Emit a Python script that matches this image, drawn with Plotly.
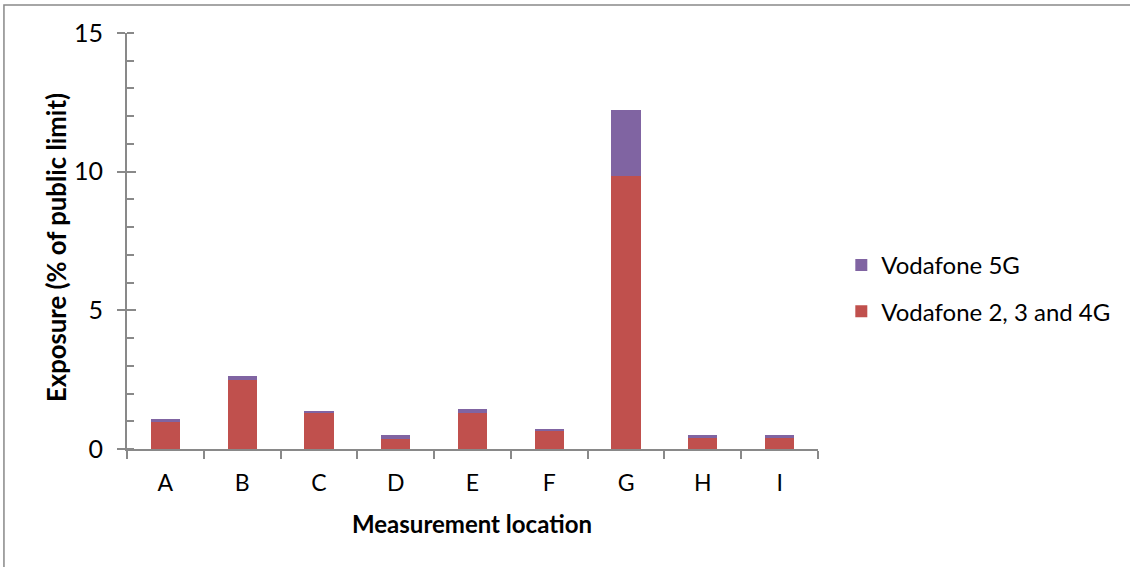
import plotly.graph_objects as go

locations = ["A", "B", "C", "D", "E", "F", "G", "H", "I"]
vodafone_234g = [1.00, 2.50, 1.30, 0.36, 1.29, 0.65, 9.86, 0.43, 0.43]
vodafone_5g = [0.07, 0.15, 0.06, 0.14, 0.14, 0.08, 2.35, 0.07, 0.07]
y_ticks = [0, 5, 10, 15]

RED = "#C0504D"
PURPLE = "#8064A2"
AXIS = "#898989"
FONT = "Lato"

W, H = 1130, 567
# plot area in pixels
PX0, PX1, PY0, PY1 = 127, 817.7, 33, 449
L, T = PX0, PY0
R = W - PX1
B = H - PY1
pw = PX1 - PX0
ph = PY1 - PY0

def px_x(p):
    return (p - PX0) / pw

def px_y(p):
    return (PY1 - p) / ph

fig = go.Figure()
fig.add_trace(go.Bar(x=locations, y=vodafone_234g, name="Vodafone 2, 3 and 4G",
                     marker=dict(color=RED, line=dict(width=0)), legendgroup="a",
                     legendrank=2))
fig.add_trace(go.Bar(x=locations, y=vodafone_5g, name="Vodafone 5G",
                     marker=dict(color=PURPLE, line=dict(width=0)), legendgroup="b",
                     legendrank=1))
# invisible trace on overlay axis to carry the inside part of major ticks
fig.add_trace(go.Scatter(x=[locations[0]], y=[0], yaxis="y2", mode="markers",
                         marker=dict(opacity=0), showlegend=False, hoverinfo="skip"))

fig.update_layout(
    width=W, height=H,
    margin=dict(l=L, r=R, t=T, b=B, autoexpand=False),
    barmode="stack", bargap=0.62,
    paper_bgcolor="white", plot_bgcolor="white",
    font=dict(family=FONT, size=24, color="black"),
    showlegend=True,
    legend=dict(x=px_x(841), xanchor="left", y=px_y(288.5), yanchor="middle",
                traceorder="grouped", tracegroupgap=12,
                font=dict(family=FONT, size=24, color="black"),
                bgcolor="rgba(0,0,0,0)"),
    xaxis=dict(type="category", showline=True, linecolor=AXIS, linewidth=2,
               ticks="outside", ticklen=8, tickwidth=2, tickcolor=AXIS,
               tickson="boundaries", showgrid=False, zeroline=False,
               tickfont=dict(family=FONT, size=23), ticklabelstandoff=12),
    yaxis=dict(range=[0, 15], tickvals=y_ticks, showline=True, linecolor=AXIS, linewidth=2,
               ticks="outside", ticklen=8, tickwidth=2, tickcolor=AXIS,
               showgrid=False, zeroline=False, ticklabelstandoff=9,
               tickfont=dict(family=FONT, size=25),
               minor=dict(dtick=1, ticks="inside", ticklen=7, tickwidth=1.5,
                          tickcolor=AXIS, showgrid=False)),
    yaxis2=dict(range=[0, 15], tickvals=y_ticks, overlaying="y", side="left",
                showline=False, ticks="inside", ticklen=9, tickwidth=2, tickcolor=AXIS,
                showticklabels=False, showgrid=False, zeroline=False),
    shapes=[dict(type="rect", xref="paper", yref="paper",
                 x0=px_x(4), x1=px_x(1200), y0=px_y(640), y1=px_y(5),
                 line=dict(color=AXIS, width=1.5), fillcolor="rgba(0,0,0,0)", layer="below")],
    annotations=[
        dict(text="<b>Measurement location</b>", xref="paper", yref="paper",
             x=px_x(472), y=px_y(523), showarrow=False, xanchor="center", yanchor="middle",
             font=dict(family=FONT, size=24, color="black")),
        dict(text="<b>Exposure (% of public limit)</b>", xref="paper", yref="paper",
             x=px_x(56), y=px_y(247), showarrow=False, xanchor="center", yanchor="middle",
             textangle=-90, font=dict(family=FONT, size=25.7, color="black")),
    ],
)

fig.write_html("out.html",
               config={"displayModeBar": False},
               post_script="document.body.style.margin='0px';"
                           "document.body.style.overflow='hidden';")
